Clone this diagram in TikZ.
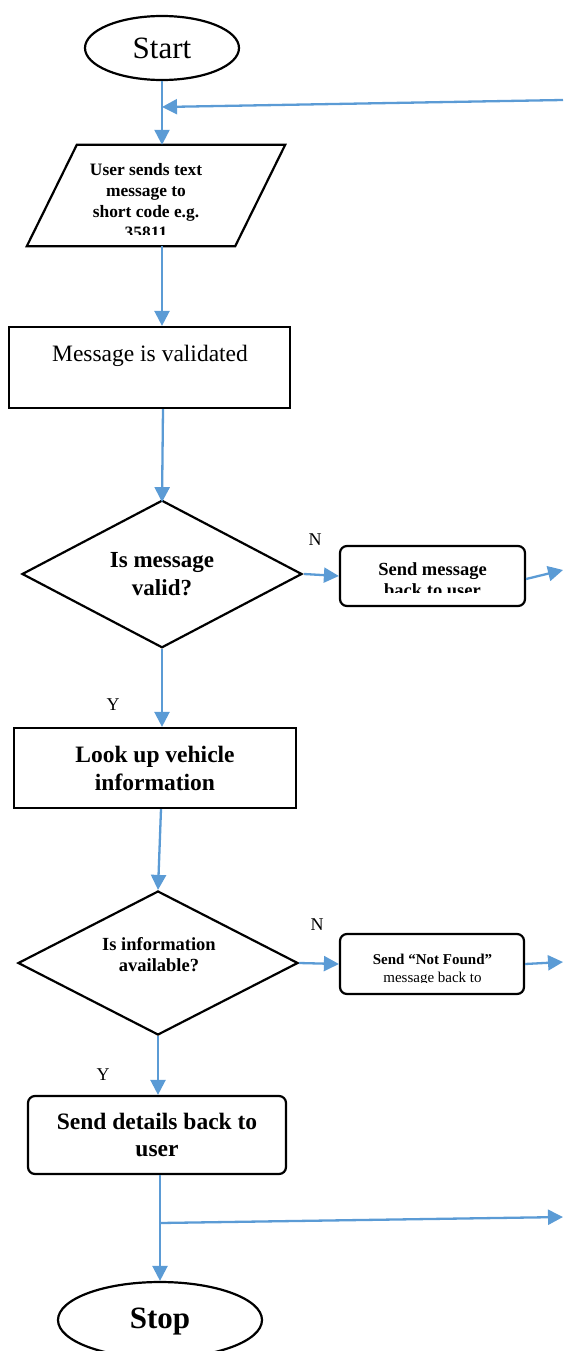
\documentclass[tikz,border=0pt]{standalone}
\usepackage{fontspec}
\setmainfont{Liberation Serif}
\usetikzlibrary{arrows.meta,shapes.geometric}
\definecolor{arrowblue}{HTML}{5B9BD5}
\begin{document}
\begin{tikzpicture}[x=1pt,y=-1pt,
  box/.style={draw,line width=2.2pt,inner sep=0pt},
  rbox/.style={box,rounded corners=7pt},
  flow/.style={draw=arrowblue,line width=2.3pt,-{Triangle[length=15pt,width=15pt]}},
  lbl/.style={font=\fontsize{18}{20}\selectfont,inner sep=0pt},
  txt/.style={inner sep=0pt,align=center},
]
\useasboundingbox (0,0) rectangle (563,1351);

% Start
\node[box,ellipse,minimum width=154pt,minimum height=64pt,font=\fontsize{31}{36}\selectfont] (start) at (162,48) {Start};

% Parallelogram (outline drawn around a named anchor node)
\node[inner sep=0pt,minimum width=208pt,minimum height=101pt] (par) at (156,195.5) {};
\draw[line width=2.2pt,line join=miter] ([xshift=25pt]par.north west) -- ([xshift=25pt]par.north east)
  -- ([xshift=-25pt]par.south east) -- ([xshift=-25pt]par.south west) -- cycle;
\begin{scope}
  \clip (20,140) rectangle (290,234.5);
  \node[txt,font=\bfseries\fontsize{17.4}{21.3}\selectfont] (partxt) at (146,201) {User sends text\\message to\\short code e.g.\\35811};
\end{scope}

% Message is validated
\node[box,minimum width=281pt,minimum height=81pt] (validate) at (149.5,367.5) {};
\node[txt,font=\fontsize{23.5}{28}\selectfont] (validatetxt) at (150,356) {Message is validated};

% Decision 1
\node[box,diamond,minimum width=280pt,minimum height=144pt,align=center,font=\bfseries\fontsize{23}{28}\selectfont] (isvalid) at (162,574) {Is message\\valid?};

% Send message back
\node[rbox,minimum width=185pt,minimum height=60pt] (sendback) at (432.5,576) {};
\begin{scope}
  \clip (340,540) rectangle (525,592);
  \node[txt,font=\bfseries\fontsize{18.5}{21}\selectfont] (sendbacktxt) at (432.5,580) {Send message\\back to user};
\end{scope}
\node[lbl] (n1) at (315,540) {N};

% Look up
\node[box,minimum width=282pt,minimum height=80pt,align=center,font=\bfseries\fontsize{23.5}{28}\selectfont] (lookup) at (155,768) {Look up vehicle\\information};
\node[lbl] (y1) at (113,705) {Y};

% Decision 2
\node[box,diamond,minimum width=280pt,minimum height=144pt] (avail) at (158,963) {};
\node[txt,font=\bfseries\fontsize{18.5}{21}\selectfont] (availtxt) at (159,955) {Is information\\available?};

% Not found
\node[rbox,minimum width=184pt,minimum height=60pt] (notfound) at (432,964) {};
\begin{scope}
  \clip (340,930) rectangle (524,982.5);
  \node[txt,font=\fontsize{15}{18}\selectfont] (notfoundtxt) at (432.5,970) {\textbf{Send “Not Found”}\\message back to};
\end{scope}
\node[lbl] (n2) at (317,925) {N};
\node[lbl] (y2) at (103,1075) {Y};

% Send details
\node[rbox,minimum width=258pt,minimum height=78pt,align=center,font=\bfseries\fontsize{23.5}{27}\selectfont] (details) at (157,1135) {Send details back to\\user};

% Stop
\node[box,ellipse,minimum width=204pt,minimum height=76pt] (stop) at (160,1320) {};
\node[inner sep=0pt,font=\bfseries\fontsize{31}{36}\selectfont] (stoptxt) at (160,1322) {Stop};

% Coordinates for free ends
\coordinate (retin) at (563,100);
\coordinate (merge) at (162,107);
\coordinate (out1) at (563,570);
\coordinate (out2) at (563,962);
\coordinate (branch) at (160,1223);
\coordinate (out3) at (563,1217);

% Connectors
\draw[flow] (start.south) -- (par.north -| start.south);
\draw[flow] (retin) -- (merge);
\draw[flow] (par.south -| start.south) -- (validate.north -| start.south);
\draw[flow] (validate.south -| 163,0) -- ([yshift=-3pt]isvalid.north);
\draw[flow] ([xshift=1pt]isvalid.east) -- (sendback.west);
\draw[flow] ([yshift=-3pt]sendback.east) -- (out1);
\draw[flow] (isvalid.south) -- (lookup.north -| isvalid.south);
\draw[flow] (lookup.south -| 161,0) -- (avail.north);
\draw[flow] (avail.east) -- (notfound.west);
\draw[flow] (notfound.east) -- (out2);
\draw[flow] (avail.south) -- (details.north -| avail.south);
\draw[flow] (details.south -| stop.north) -- (stop.north);
\draw[flow] (branch) -- (out3);
\end{tikzpicture}
\end{document}
